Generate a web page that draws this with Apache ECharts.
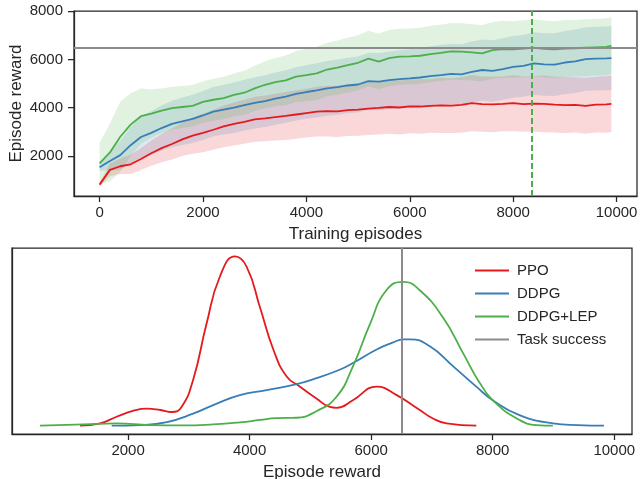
<!DOCTYPE html>
<html>
<head>
<meta charset="utf-8">
<script src="https://cdn.jsdelivr.net/npm/echarts@6/dist/echarts.min.js"></script>
<style>
  html, body { margin: 0; padding: 0; background: #fff; }
  #main { width: 641px; height: 479px; }
</style>
</head>
<body>
<div id="main"></div>
<script>
// top panel: training curves (mean and std per 200 episodes)
const episodes = [0,200,400,600,800,1000,1200,1400,1600,1800,
  2000,2200,2400,2600,2800,3000,3200,3400,3600,3800,
  4000,4200,4400,4600,4800,5000,5200,5400,5600,5800,
  6000,6200,6400,6600,6800,7000,7200,7400,7600,7800,
  8000,8200,8400,8600,8800,9000,9200,9400,9600,9800,9900];

const ppoMean = [820,1430,1580,1660,1880,2120,2330,2500,2690,2850,
  2960,3090,3230,3330,3420,3520,3560,3610,3660,3720,
  3780,3840,3860,3850,3900,3920,3960,3990,4030,4010,
  4060,4050,4080,4100,4090,4120,4190,4150,4140,4160,
  4190,4150,4170,4160,4130,4110,4120,4080,4130,4140,4160];
const ppoStd = [80,260,320,400,460,520,580,640,690,750,
  800,830,860,890,910,930,950,970,990,1000,
  1010,1030,1050,1060,1070,1080,1090,1100,1110,1120,
  1120,1130,1110,1140,1130,1150,1160,1140,1150,1130,
  1160,1140,1150,1170,1150,1160,1140,1160,1150,1170,1160];

const ddpgMean = [1540,1800,2040,2450,2790,2960,3160,3330,3440,3540,
  3680,3840,3920,4000,4110,4200,4270,4380,4460,4570,
  4650,4720,4800,4850,4920,4960,5100,5080,5140,5180,
  5210,5250,5310,5350,5400,5380,5480,5560,5520,5600,
  5690,5730,5830,5790,5780,5870,5920,6010,6030,6040,6050];
const ddpgStd = [150,400,600,750,850,900,930,960,980,1000,
  1010,1020,1030,1040,1050,1060,1070,1080,1090,1100,
  1110,1120,1130,1140,1150,1160,1170,1180,1190,1200,
  1210,1220,1230,1240,1240,1250,1260,1260,1270,1270,
  1280,1280,1290,1290,1300,1300,1310,1310,1320,1320,1320];

const lepMean = [1700,2150,2800,3300,3650,3760,3880,3980,4030,4080,
  4240,4330,4400,4530,4620,4800,4950,5060,5130,5290,
  5350,5420,5580,5660,5760,5860,6030,5910,6050,6110,
  6120,6150,6220,6270,6330,6320,6290,6250,6380,6420,
  6410,6440,6480,6430,6410,6450,6460,6480,6500,6520,6560];
const lepStd = [850,1200,1450,1300,1150,1000,920,890,870,860,
  860,870,880,890,910,940,970,1000,1030,1060,
  1080,1100,1110,1120,1130,1140,1150,1150,1160,1160,
  1160,1160,1170,1160,1170,1170,1160,1170,1170,1180,
  1170,1180,1170,1180,1170,1180,1170,1180,1170,1180,1180];

const taskSuccess = 6500;
const lepSolvedAt = 8350;

const topXTicks = [0,2000,4000,6000,8000,10000];
const topYTicks = [2000,4000,6000,8000];

// bottom panel: reward densities (scaled so the PPO peak is 1)
const ppoKdeX = [1210,1540,1810,2090,2310,2530,2720,2880,3070,3290,3510,3760,3950,4170,4390,4610,4830,5100,5320,5430,5700,6090,6420,6800,7010,7240,7730];
const ppoKdeY = [0,0.013,0.052,0.088,0.10,0.092,0.08,0.11,0.27,0.60,0.88,1.0,0.94,0.70,0.45,0.29,0.23,0.16,0.11,0.105,0.15,0.23,0.18,0.092,0.043,0.013,0];

const ddpgKdeX = [1730,2200,2640,3070,3460,3840,4280,4720,5100,5480,5700,6090,6350,6530,6640,6960,7350,7730,8000,8440,8990,9400,9830];
const ddpgKdeY = [0,0.003,0.02,0.07,0.13,0.18,0.21,0.24,0.28,0.33,0.37,0.45,0.49,0.51,0.51,0.47,0.35,0.23,0.15,0.062,0.013,0.003,0];

const lepKdeX = [550,1270,1810,2360,2910,3400,3840,4170,4440,4770,5100,5430,5700,5980,6250,6530,6800,7180,7510,7790,8060,8440,8720,8990];
const lepKdeY = [0,0.007,0.013,0.003,0.001,0.007,0.019,0.033,0.044,0.046,0.085,0.17,0.35,0.60,0.80,0.85,0.80,0.64,0.43,0.25,0.13,0.033,0.003,0];

const bottomXTicks = [2000,4000,6000,8000,10000];

const RED = '#e41a1c', BLUE = '#377eb8', GREEN = '#4daf4a', GRAY = '#8c8c8c';
const INK = '#262626';
const FONT = '"Liberation Sans", Arial, sans-serif';

function pairs(xs, ys) {
  return xs.map((x, i) => [x, ys[i]]);
}

// mean +/- std band, drawn as one polygon through the axis scales
function bandSeries(name, mean, std, color) {
  const upper = episodes.map((x, i) => [x, mean[i] + std[i]]);
  const lower = episodes.map((x, i) => [x, mean[i] - std[i]]).reverse();
  return {
    name: name + ' band', type: 'custom', xAxisIndex: 0, yAxisIndex: 0,
    silent: true, z: 1, clip: true,
    data: [[episodes[0], mean[0]]],
    encode: { x: 0, y: 1 },
    renderItem: function (params, api) {
      const pts = upper.concat(lower).map(p => api.coord(p));
      return {
        type: 'polygon',
        shape: { points: pts },
        style: { fill: color, opacity: 0.17 }
      };
    }
  };
}

function meanSeries(name, mean, color, extra) {
  return Object.assign({
    name: name, type: 'line', xAxisIndex: 0, yAxisIndex: 0,
    data: pairs(episodes, mean), symbol: 'none', z: 4,
    itemStyle: { color: color }, lineStyle: { color: color, width: 1.8 }
  }, extra || {});
}

function kdeSeries(name, xs, ys, color) {
  return {
    name: name, type: 'line', xAxisIndex: 1, yAxisIndex: 1,
    data: pairs(xs, ys), symbol: 'none', smooth: 0.5, z: 4,
    itemStyle: { color: color }, lineStyle: { color: color, width: 1.8 }
  };
}

const plain = v => String(v);

function xAxisCfg(grid, min, max, ticks, name, gap) {
  return {
    type: 'value', gridIndex: grid, min: min, max: max,
    splitLine: { show: false },
    axisLine: { show: true, onZero: false, lineStyle: { color: INK, width: 1.25 } },
    axisTick: { show: true, length: 6, customValues: ticks, lineStyle: { color: INK, width: 1.25 } },
    axisLabel: { customValues: ticks, formatter: plain, fontSize: 15, color: INK, fontFamily: FONT, margin: 9 },
    name: name, nameLocation: 'middle', nameGap: gap, nameMoveOverlap: false,
    nameTextStyle: { fontSize: 17, color: INK, fontFamily: FONT }
  };
}

const chart = echarts.init(document.getElementById('main'), null, { renderer: 'canvas' });

const option = {
  animation: false,
  backgroundColor: '#fff',
  textStyle: { fontFamily: FONT },
  grid: [
    { left: 74, top: 11, width: 563, height: 185, show: true, borderColor: INK, borderWidth: 1.25,
      containLabel: false, outerBoundsMode: 'none' },
    { left: 12, top: 248, width: 620, height: 186, show: true, borderColor: INK, borderWidth: 1.25,
      containLabel: false, outerBoundsMode: 'none' }
  ],
  xAxis: [
    xAxisCfg(0, -495, 10395, topXTicks, 'Training episodes', 30),
    xAxisCfg(1, 90, 10292, bottomXTicks, 'Episode reward', 30)
  ],
  yAxis: [
    {
      type: 'value', gridIndex: 0, min: 350, max: 8000,
      splitLine: { show: false },
      axisLine: { show: true, onZero: false, lineStyle: { color: INK, width: 1.25 } },
      axisTick: { show: true, length: 6, customValues: topYTicks, lineStyle: { color: INK, width: 1.25 } },
      axisLabel: { customValues: topYTicks, formatter: plain, fontSize: 15, color: INK, fontFamily: FONT, margin: 11 },
      name: 'Episode reward', nameLocation: 'middle', nameGap: 49, nameMoveOverlap: false,
      nameTextStyle: { fontSize: 17, color: INK, fontFamily: FONT }
    },
    {
      type: 'value', gridIndex: 1, min: -0.05, max: 1.05,
      splitLine: { show: false },
      axisLine: { show: true, onZero: false, lineStyle: { color: INK, width: 1.25 } },
      axisTick: { show: false },
      axisLabel: { show: false }
    }
  ],
  legend: {
    data: ['PPO', 'DDPG', 'DDPG+LEP', 'Task success'],
    orient: 'vertical', left: 470, top: 258,
    icon: 'rect', itemWidth: 34, itemHeight: 2, itemGap: 8,
    textStyle: { fontSize: 15, color: INK, fontFamily: FONT, padding: [0, 0, 0, 3] },
    selectedMode: false
  },
  series: [
    bandSeries('PPO', ppoMean, ppoStd, RED),
    bandSeries('DDPG', ddpgMean, ddpgStd, BLUE),
    bandSeries('DDPG+LEP', lepMean, lepStd, GREEN),
    meanSeries('PPO', ppoMean, RED),
    meanSeries('DDPG', ddpgMean, BLUE),
    meanSeries('DDPG+LEP', lepMean, GREEN, {
      markLine: {
        silent: true, symbol: ['none', 'none'], label: { show: false },
        lineStyle: { color: GREEN, width: 2, type: [6, 3] },
        data: [{ xAxis: lepSolvedAt }]
      }
    }),
    {
      name: 'Task success', type: 'line', xAxisIndex: 0, yAxisIndex: 0, data: [], z: 5,
      itemStyle: { color: GRAY }, lineStyle: { color: GRAY, width: 2 },
      markLine: {
        silent: true, symbol: ['none', 'none'], label: { show: false },
        lineStyle: { color: GRAY, width: 2, type: 'solid' },
        data: [{ yAxis: taskSuccess }]
      }
    },
    kdeSeries('PPO', ppoKdeX, ppoKdeY, RED),
    kdeSeries('DDPG', ddpgKdeX, ddpgKdeY, BLUE),
    kdeSeries('DDPG+LEP', lepKdeX, lepKdeY, GREEN),
    {
      name: 'Task success', type: 'line', xAxisIndex: 1, yAxisIndex: 1, data: [], z: 5,
      itemStyle: { color: GRAY }, lineStyle: { color: GRAY, width: 2 },
      markLine: {
        silent: true, symbol: ['none', 'none'], label: { show: false },
        lineStyle: { color: GRAY, width: 2, type: 'solid' },
        data: [{ xAxis: taskSuccess }]
      }
    }
  ]
};

chart.setOption(option);
window.addEventListener('resize', chart.resize);
</script>
</body>
</html>
